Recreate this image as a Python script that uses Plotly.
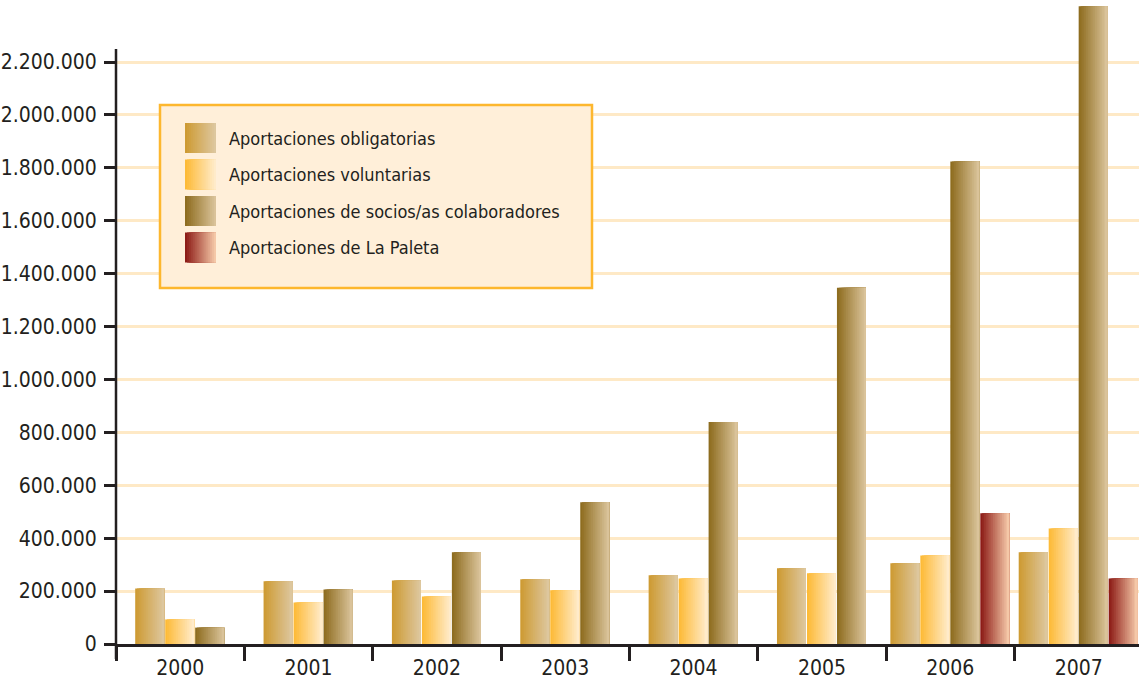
import plotly.graph_objects as go

# ---------------- data ----------------
years = ["2000", "2001", "2002", "2003", "2004", "2005", "2006", "2007"]
obligatorias = [210000, 237000, 240000, 245000, 260000, 286000, 305000, 347000]
voluntarias = [93000, 157000, 180000, 203000, 248000, 267000, 335000, 437000]
socios = [62000, 206000, 347000, 536000, 839000, 1347000, 1824000, 2411000]
paleta = [None, None, None, None, None, None, 494000, 248000]

series_names = [
    "Aportaciones obligatorias",
    "Aportaciones voluntarias",
    "Aportaciones de socios/as colaboradores",
    "Aportaciones de La Paleta",
]
y_ticks = [0, 200000, 400000, 600000, 800000, 1000000, 1200000, 1400000,
           1600000, 1800000, 2000000, 2200000]

# ---------------- style ----------------
series_values = [obligatorias, voluntarias, socios, paleta]
gradients = [
    ("#CE9A30", "#DDC8A2"),
    ("#FDB933", "#FFEDCF"),
    ("#8C6A1C", "#DCC69E"),
    ("#8A1712", "#F8CEAD"),
]
FONT = "DejaVu Sans Condensed, Liberation Sans Narrow, sans-serif"
INK = "#231F20"
GRID = "#FEE9C6"
YTOP = 2427000
SLOT = 0.2336
GAP = 0.008
NSTRIP = 16

PLOT_L, PLOT_R, PLOT_T, PLOT_B = 116, 1139, 2, 644


def hex2rgb(h):
    h = h.lstrip("#")
    return tuple(int(h[i:i + 2], 16) for i in (0, 2, 4))


def mix(c1, c2, t):
    a, b = hex2rgb(c1), hex2rgb(c2)
    r = [round(a[i] + (b[i] - a[i]) * t) for i in range(3)]
    return "rgb(%d,%d,%d)" % tuple(r)


def px_x(x):
    return (x - PLOT_L) / (PLOT_R - PLOT_L)


def px_y(y):
    return (PLOT_B - y) / (PLOT_B - PLOT_T)


fig = go.Figure()

counts = [sum(1 for s in series_values if s[i] is not None) for i in range(len(years))]
bar_w = SLOT - GAP
for si, vals in enumerate(series_values):
    offs = []
    for i in range(len(years)):
        if vals[i] is None:
            offs.append(0)
            continue
        j = sum(1 for s in series_values[:si] if s[i] is not None)
        offs.append(-counts[i] * SLOT / 2 + j * SLOT)
    c1, c2 = gradients[si]
    for k in range(NSTRIP):
        t = (k + 0.5) / NSTRIP
        fig.add_trace(go.Bar(
            x=years, y=vals,
            offset=[o + k * bar_w / NSTRIP for o in offs],
            width=bar_w - k * bar_w / NSTRIP,
            marker=dict(color=mix(c1, c2, t), line=dict(width=0)),
            name=series_names[si],
            showlegend=False,
            hoverinfo="x+y+name" if k == 0 else "skip",
        ))

shapes = []
# y axis line (stops a bit above the top gridline, extends below x axis)
shapes.append(dict(type="line", xref="paper", yref="paper",
                   x0=0, x1=0, y0=px_y(659), y1=px_y(49),
                   line=dict(color=INK, width=2.5), layer="above"))
# legend box
shapes.append(dict(type="rect", xref="paper", yref="paper",
                   x0=px_x(160), x1=px_x(592), y0=px_y(288), y1=px_y(105),
                   fillcolor="#FFEFD9", line=dict(color="#FDB72E", width=2.5),
                   layer="above"))
annotations = []
row_tops = [123, 159.5, 196, 232.5]
SW_X0, SW_X1, SW_H = 185, 216, 30
for si, name in enumerate(series_names):
    c1, c2 = gradients[si]
    top = row_tops[si]
    for k in range(NSTRIP):
        t = (k + 0.5) / NSTRIP
        x0 = SW_X0 + k * (SW_X1 - SW_X0) / NSTRIP
        shapes.append(dict(type="rect", xref="paper", yref="paper",
                           x0=px_x(x0), x1=px_x(SW_X1),
                           y0=px_y(top + SW_H), y1=px_y(top),
                           fillcolor=mix(c1, c2, t), line=dict(width=0),
                           layer="above"))
    annotations.append(dict(xref="paper", yref="paper", x=px_x(227),
                            y=px_y(top + SW_H / 2), text=name, showarrow=False,
                            xanchor="left", yanchor="middle",
                            font=dict(family=FONT, size=18, color=INK)))

fig.update_layout(
    width=1139, height=681,
    margin=dict(l=PLOT_L, r=0, t=PLOT_T, b=681 - PLOT_B),
    paper_bgcolor="white", plot_bgcolor="white",
    barmode="overlay", separators=",.",
    font=dict(family=FONT, size=21, color=INK),
    showlegend=False,
    shapes=shapes, annotations=annotations,
)
fig.update_xaxes(
    type="category", range=[-0.5, 7.47],
    showline=True, linecolor=INK, linewidth=2.5,
    ticks="outside", ticklen=14, tickwidth=2.5, tickcolor=INK,
    tickson="boundaries", showgrid=False, automargin=False,
    ticklabelstandoff=3,
)
fig.update_yaxes(
    range=[0, YTOP], tickvals=y_ticks, tickformat=",d",
    ticks="outside", ticklen=11, tickwidth=2.5, tickcolor=INK,
    showgrid=True, gridcolor=GRID, gridwidth=3,
    zeroline=False, showline=False, automargin=False,
    ticklabelstandoff=3,
)

post = "document.body.style.margin = '0px';"
fig.write_html("out.html", post_script=post, config={"displayModeBar": False})
